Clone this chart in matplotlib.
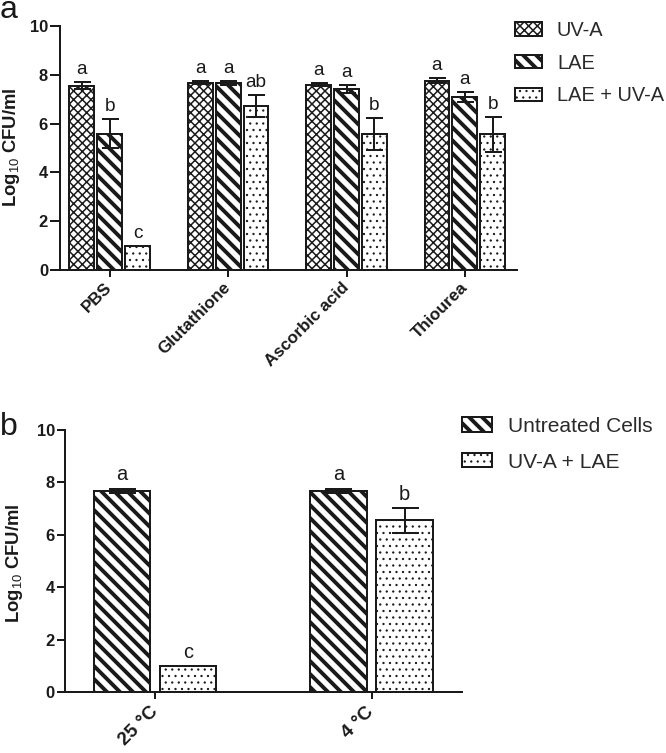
import matplotlib
matplotlib.use("Agg")
import matplotlib.pyplot as plt
from matplotlib.patches import Patch
import numpy as np

plt.rcParams['font.family'] = ['Liberation Sans', 'DejaVu Sans']
plt.rcParams['mathtext.fontset'] = 'custom'
plt.rcParams['mathtext.rm'] = 'Liberation Sans'
plt.rcParams['mathtext.bf'] = 'Liberation Sans:bold'

DPI = 78
def pt(px):
    # sizes are thought of in pixels, matplotlib wants points
    return px * 72.0 / DPI

# ---- data, panel a
groups_a = ["PBS", "Glutathione", "Ascorbic acid", "Thiourea"]
series_a = ["UV-A", "LAE", "LAE + UV-A"]
uva_mean = [7.55, 7.68, 7.60, 7.75]
uva_err = [0.15, 0.05, 0.07, 0.10]
lae_mean = [5.58, 7.65, 7.42, 7.08]
lae_err = [0.60, 0.08, 0.15, 0.20]
combo_mean = [1.0, 6.72, 5.57, 5.57]
combo_err = [0.0, 0.45, 0.65, 0.72]
letters_uva = ["a", "a", "a", "a"]
letters_lae = ["b", "a", "a", "a"]
letters_combo = ["c", "ab", "b", "b"]

# ---- data, panel b
groups_b = ["25 °C", "4 °C"]
series_b = ["Untreated Cells", "UV-A + LAE"]
untreated_mean = [7.68, 7.68]
untreated_err = [0.07, 0.07]
treated_mean = [1.0, 6.55]
treated_err = [0.0, 0.47]
letters_untreated = ["a", "a"]
letters_treated = ["c", "b"]

styles = {
    "check": dict(hatch="xxx", hlw=1.4),
    "stripe": dict(hatch="\\\\", hlw=3.6),
    "dots": dict(hatch="..", hlw=0.9),
}

def set_hlw(p, lw):
    if hasattr(p, "set_hatch_linewidth"):
        p.set_hatch_linewidth(lw)

W, H = 666, 753
fig = plt.figure(figsize=(W / DPI, H / DPI), dpi=DPI)

edge_lw = pt(2)
txt_col = "#1a1a1a"

def style_axes(ax, ytick_len, xpad, xsize, label_xy):
    ax.set_ylim(0, 10)
    ax.set_yticks([0, 2, 4, 6, 8, 10])
    for s in ["top", "right"]:
        ax.spines[s].set_visible(False)
    for s in ["left", "bottom"]:
        ax.spines[s].set_linewidth(edge_lw)
        ax.spines[s].set_color(txt_col)
    ax.tick_params(axis="y", direction="out", length=pt(ytick_len), width=edge_lw,
                   labelsize=pt(16.5), pad=pt(2), colors=txt_col)
    ax.tick_params(axis="x", direction="out", length=pt(7), width=edge_lw,
                   labelsize=pt(xsize), pad=pt(xpad), colors=txt_col)
    for lab in ax.get_yticklabels():
        lab.set_fontweight("bold")
    ax.set_ylabel(r"Log$_{10}$ CFU/ml", fontsize=pt(18.5), fontweight="bold",
                  color=txt_col)
    ax.yaxis.set_label_coords(*label_xy)

def draw_series(ax, x, means, errs, style, width, capsize, letters, lsize, gap):
    bars = ax.bar(x, means, width=width, color="white", edgecolor=txt_col,
                  linewidth=edge_lw, hatch=styles[style]["hatch"], zorder=2)
    for b in bars:
        set_hlw(b, styles[style]["hlw"])
    e = np.array(errs)
    mask = e > 0
    ax.errorbar(np.array(x)[mask], np.array(means)[mask], yerr=e[mask], fmt="none",
                ecolor=txt_col, elinewidth=edge_lw, capsize=capsize,
                capthick=edge_lw, zorder=3)
    for xi, m, er, t in zip(x, means, errs, letters):
        ax.annotate(t, xy=(xi, m + er), xytext=(0, pt(gap)), textcoords="offset points",
                    ha="center", va="bottom", fontsize=lsize, color=txt_col)

def make_legend(names, keys, anchor, fs, hl, hh, pad, spacing):
    hs = [Patch(facecolor="white", edgecolor=txt_col, linewidth=edge_lw,
                hatch=styles[k]["hatch"], label=n) for n, k in zip(names, keys)]
    leg = fig.legend(handles=hs, loc="upper left", bbox_to_anchor=anchor,
                     frameon=False, fontsize=pt(fs), handlelength=hl,
                     handleheight=hh, handletextpad=pad, labelspacing=spacing,
                     borderpad=0, borderaxespad=0)
    for h, k in zip(leg.legend_handles, keys):
        set_hlw(h, styles[k]["hlw"])
    for t in leg.get_texts():
        t.set_color("#2a2a2a")
    return leg

# ---- panel a
ax1 = fig.add_axes([60 / W, 1 - 270 / H, 457 / W, 244 / H])
xa = np.arange(len(groups_a))
off, bw = 0.236, 0.21
draw_series(ax1, xa - off, uva_mean, uva_err, "check", bw, pt(8.5), letters_uva, pt(19), 4)
draw_series(ax1, xa, lae_mean, lae_err, "stripe", bw, pt(8.5), letters_lae, pt(19), 4)
draw_series(ax1, xa + off, combo_mean, combo_err, "dots", bw, pt(8.5), letters_combo, pt(19), 4)
ax1.set_xlim(-0.42, 3.44)
ax1.set_xticks(xa)
ax1.set_xticklabels(groups_a, rotation=45, ha="right", va="center",
                    rotation_mode="anchor", fontweight="bold")
style_axes(ax1, 10, 8, 17, (-0.083, 0.502))

make_legend(series_a, ["check", "stripe", "dots"], (515 / W, 1 - 21 / H),
            20, 1.35, 0.65, 0.75, 0.68)

# ---- panel b
ax2 = fig.add_axes([65 / W, 1 - 692.3 / H, 397 / W, 262.3 / H])
xb = np.arange(len(groups_b))
offb, bwb = 0.153, 0.26
draw_series(ax2, xb - offb, untreated_mean, untreated_err, "stripe", bwb, pt(13.5),
            letters_untreated, pt(20), 5)
draw_series(ax2, xb + offb, treated_mean, treated_err, "dots", bwb, pt(13.5),
            letters_treated, pt(20), 4)
ax2.set_xlim(-0.416, 1.418)
ax2.set_xticks(xb)
ax2.set_xticklabels(groups_b, rotation=45, ha="right", va="center",
                    rotation_mode="anchor", fontweight="bold")
style_axes(ax2, 8, 10, 19, (-0.101, 0.493))

make_legend(series_b, ["stripe", "dots"], (462 / W, 1 - 417 / H),
            21, 1.43, 0.67, 0.76, 0.79)

# panel letters
fig.text(0, 1 - 18 / H, "a", fontsize=pt(32), ha="left", va="baseline", color=txt_col)
fig.text(0, 1 - 435 / H, "b", fontsize=pt(32), ha="left", va="baseline", color=txt_col)

fig.savefig("out.png", dpi=DPI, facecolor="white")
